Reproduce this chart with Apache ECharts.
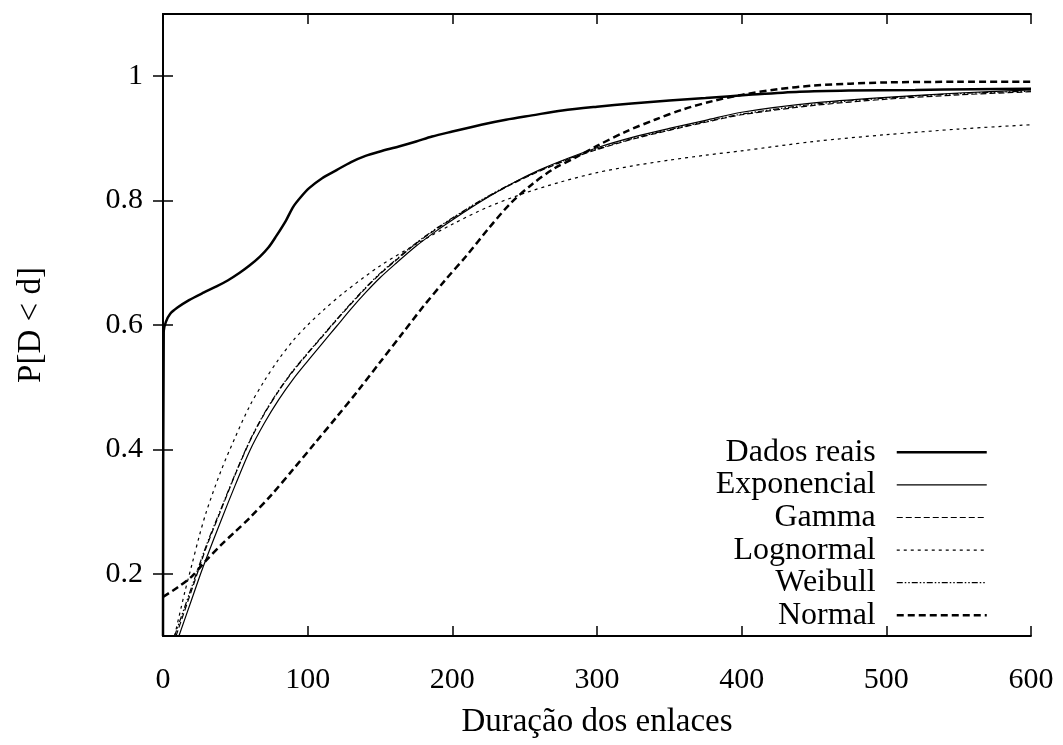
<!DOCTYPE html>
<html>
<head>
<meta charset="utf-8">
<script src="https://cdn.jsdelivr.net/npm/echarts@6/dist/echarts.min.js"></script>
<style>html,body{margin:0;padding:0;background:#fff}#c{width:1063px;height:745px}</style>
</head>
<body>
<div id="c"></div>
<script>
var xTicks = [0, 100, 200, 300, 400, 500, 600];
var yTicks = [0.2, 0.4, 0.6, 0.8, 1.0];
var seriesNames = ['Dados reais', 'Exponencial', 'Gamma', 'Lognormal', 'Weibull', 'Normal'];

var dadosReais = [[0,0.1],[0.5,0.59],[2,0.605],[5,0.618],[10,0.628],[18,0.64],[28,0.652],[37,0.662],[45,0.672],[53,0.684],[60,0.696],[67,0.71],[73,0.725],[78,0.742],[85,0.768],[90,0.79],[95,0.805],[101,0.82],[110,0.836],[120,0.849],[130,0.862],[140,0.872],[150,0.879],[163,0.887],[175,0.895],[186,0.903],[200,0.911],[220,0.922],[237,0.93],[255,0.937],[276,0.945],[300,0.951],[324,0.956],[350,0.961],[375,0.965],[405,0.97],[440,0.975],[474,0.977],[520,0.978],[560,0.979],[600,0.98]];

var exponencial = [[11,0.1],[20,0.16],[26,0.2],[30,0.225],[40,0.285],[50,0.343],[60,0.398],[70,0.442],[80,0.48],[90,0.513],[100,0.542],[110,0.57],[120,0.598],[130,0.626],[140,0.652],[150,0.676],[160,0.697],[175,0.727],[190,0.753],[200,0.769],[220,0.799],[240,0.826],[260,0.849],[280,0.868],[300,0.885],[325,0.902],[350,0.916],[375,0.929],[400,0.942],[450,0.957],[500,0.966],[550,0.973],[600,0.978]];

var gamma = [[9,0.1],[20,0.175],[30,0.243],[40,0.302],[50,0.36],[60,0.413],[70,0.457],[80,0.494],[90,0.526],[100,0.554],[110,0.581],[120,0.608],[130,0.634],[140,0.659],[150,0.682],[160,0.702],[175,0.731],[190,0.756],[200,0.771],[220,0.8],[240,0.825],[260,0.847],[280,0.866],[300,0.882],[325,0.899],[350,0.913],[375,0.926],[400,0.938],[450,0.953],[500,0.963],[550,0.97],[600,0.975]];

var lognormal = [[8,0.1],[15,0.17],[20,0.215],[25,0.26],[30,0.3],[40,0.365],[50,0.42],[60,0.47],[70,0.51],[80,0.545],[90,0.575],[100,0.6],[110,0.622],[125,0.652],[150,0.695],[175,0.73],[200,0.762],[225,0.79],[250,0.812],[275,0.83],[300,0.845],[325,0.856],[350,0.865],[375,0.873],[400,0.88],[450,0.895],[500,0.906],[550,0.915],[600,0.922]];

var weibull = [[8,0.1],[20,0.18],[30,0.246],[40,0.304],[50,0.361],[60,0.414],[70,0.458],[80,0.495],[90,0.527],[100,0.555],[110,0.582],[120,0.609],[130,0.635],[140,0.66],[150,0.683],[160,0.703],[175,0.732],[190,0.757],[200,0.772],[220,0.801],[240,0.826],[260,0.848],[280,0.867],[300,0.883],[325,0.9],[350,0.914],[375,0.927],[400,0.939],[450,0.955],[500,0.965],[550,0.972],[600,0.976]];

var normal = [[0,0.163],[10,0.178],[20,0.196],[30,0.222],[40,0.246],[50,0.268],[60,0.29],[75,0.327],[90,0.368],[105,0.41],[120,0.452],[135,0.495],[150,0.54],[165,0.585],[180,0.63],[195,0.672],[210,0.712],[225,0.755],[240,0.795],[255,0.826],[270,0.851],[285,0.869],[300,0.888],[320,0.911],[340,0.93],[360,0.947],[380,0.96],[400,0.97],[425,0.979],[450,0.985],[475,0.988],[500,0.99],[550,0.991],[600,0.991]];

var FONT = 'Liberation Serif';
var styles = [
  {width: 2.5, type: 'solid'},
  {width: 1.2, type: 'solid'},
  {width: 1.2, type: [6, 3]},
  {width: 1.2, type: [3, 4]},
  {width: 1.2, type: [6, 2, 1.5, 2, 1.5, 2]},
  {width: 2.5, type: [7, 4]}
];
var dataSets = [dadosReais, exponencial, gamma, lognormal, weibull, normal];

var chart = echarts.init(document.getElementById('c'), null, {renderer: 'canvas'});

var series = seriesNames.map(function (name, i) {
  return {
    name: name, type: 'line', data: dataSets[i], showSymbol: false, symbol: 'none',
    smooth: 0.3, clip: true, animation: false, color: '#000',
    itemStyle: {color: '#000'},
    lineStyle: {color: '#000', width: styles[i].width, type: styles[i].type}
  };
});

var legendData = seriesNames.map(function (name, i) {
  return {name: name, lineStyle: {color: '#000', width: styles[i].width, type: styles[i].type},
          itemStyle: {opacity: 0}};
});

var axisLineStyle = {show: true, lineStyle: {color: '#000', width: 1.8}};
var tickStyle = {color: '#000', width: 1.5};

chart.setOption({
  backgroundColor: '#fff',
  animation: false,
  grid: {left: 163, right: 32, top: 14, bottom: 109},
  legend: {
    orient: 'vertical', right: 75, top: 436, align: 'right', padding: 0,
    itemWidth: 90, itemHeight: 14, itemGap: 0,
    data: legendData,
    itemStyle: {opacity: 0},
    textStyle: {fontFamily: FONT, fontSize: 32, color: '#000', lineHeight: 32.6, padding: [0, 16, 0, 0]}
  },
  xAxis: [{
    type: 'value', min: xTicks[0], max: xTicks[xTicks.length - 1], interval: 100,
    position: 'bottom',
    name: 'Duração dos enlaces', nameLocation: 'middle', nameGap: 70,
    nameTextStyle: {fontFamily: FONT, fontSize: 33, color: '#000'},
    axisLine: axisLineStyle,
    axisTick: {show: true, inside: true, length: 10, lineStyle: tickStyle},
    axisLabel: {fontFamily: FONT, fontSize: 30, color: '#000', margin: 29},
    splitLine: {show: false}
  }, {
    type: 'value', min: xTicks[0], max: xTicks[xTicks.length - 1], interval: 100,
    position: 'top',
    axisLine: axisLineStyle,
    axisTick: {show: true, inside: true, length: 10, lineStyle: tickStyle},
    axisLabel: {show: false},
    splitLine: {show: false}
  }],
  yAxis: [{
    type: 'value', min: 0.1, max: 1.1, interval: 0.1,
    position: 'left',
    name: 'P[D < d]', nameLocation: 'middle', nameGap: 115, nameRotate: 90,
    nameTextStyle: {fontFamily: FONT, fontSize: 33, color: '#000'},
    axisLine: axisLineStyle,
    axisTick: {show: true, inside: true, length: 10, customValues: yTicks, lineStyle: tickStyle},
    axisLabel: {fontFamily: FONT, fontSize: 30, color: '#000', margin: 20, customValues: yTicks,
      formatter: function (v) { return String(+v.toFixed(1)); }},
    splitLine: {show: false}
  }, {
    type: 'value', min: 0.1, max: 1.1, interval: 0.1,
    position: 'right',
    axisLine: axisLineStyle,
    axisTick: {show: true, inside: true, length: 10, customValues: yTicks, lineStyle: tickStyle},
    axisLabel: {show: false},
    splitLine: {show: false}
  }],
  series: series
});
</script>
</body>
</html>
